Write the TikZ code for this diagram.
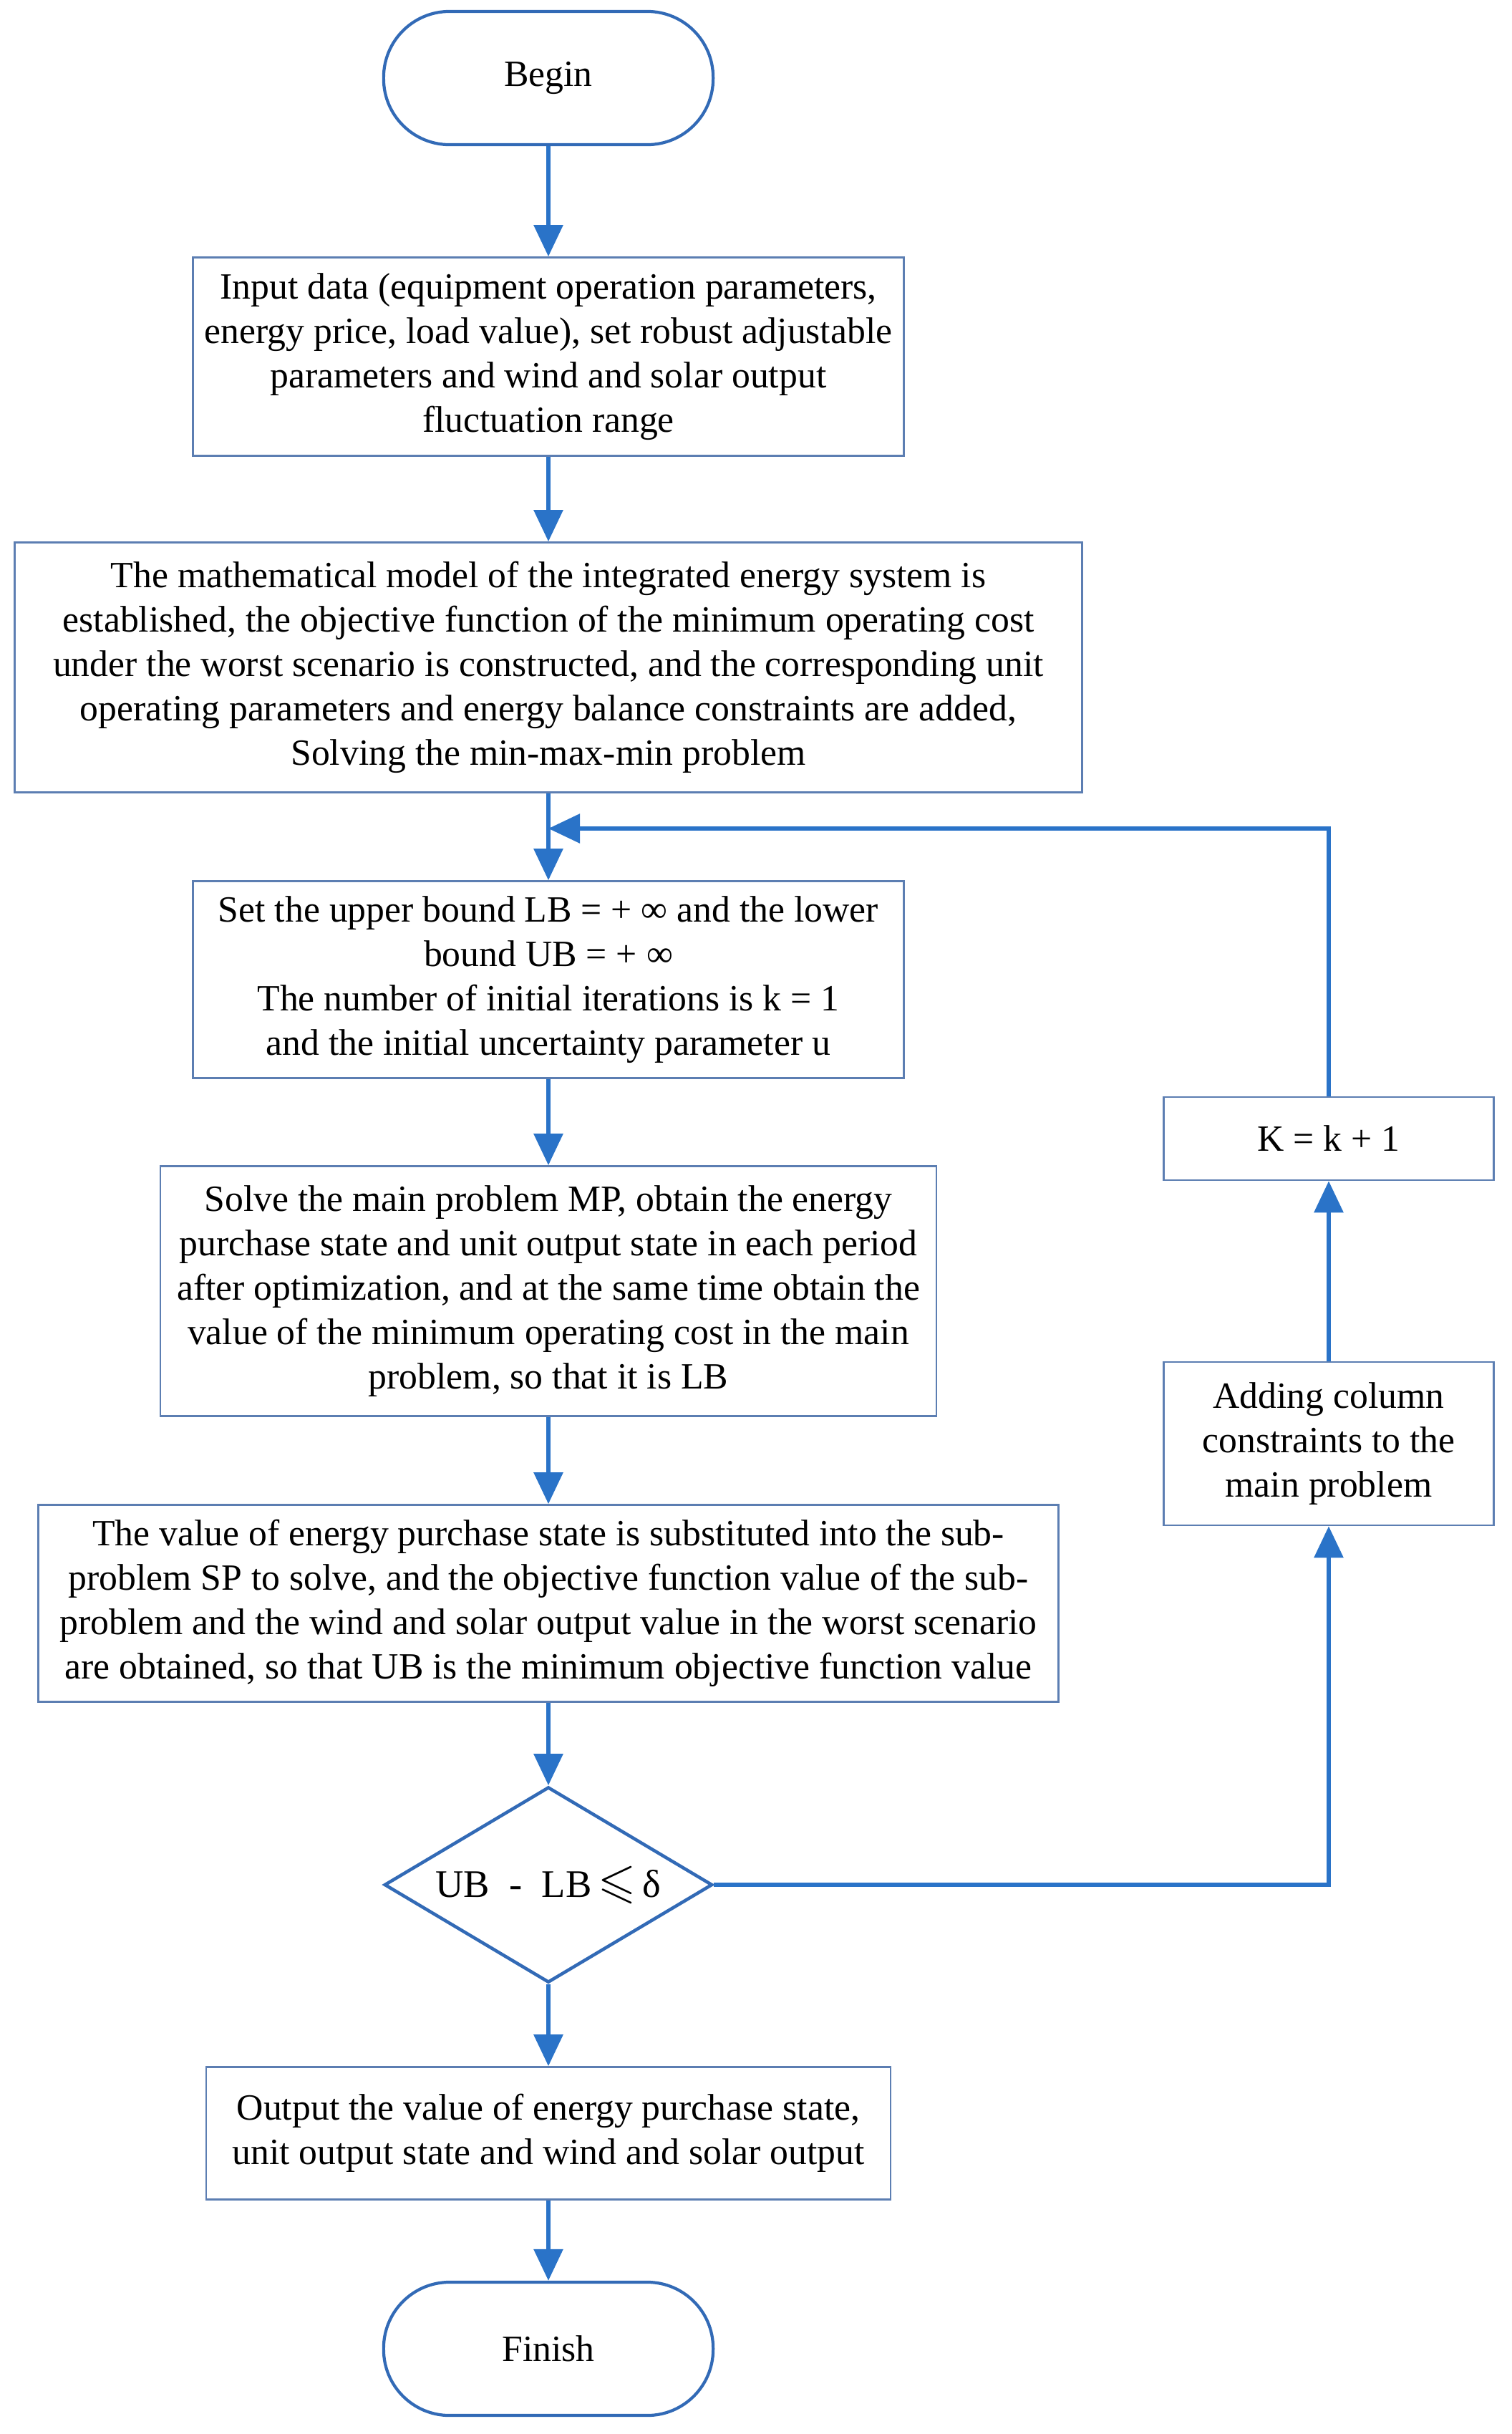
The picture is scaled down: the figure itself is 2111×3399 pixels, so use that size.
\documentclass[tikz,border=0pt]{standalone}
\usepackage{amssymb}
\usepackage{fontspec}
\setmainfont{Liberation Serif}
\usetikzlibrary{shapes.geometric,arrows.meta}
\definecolor{arrblue}{RGB}{42,115,200}
\definecolor{boxblue}{RGB}{92,126,178}
\definecolor{darkblue}{RGB}{50,106,182}
\begin{document}
\begin{tikzpicture}[x=0.01cm,y=-0.01cm,
  txt/.style={font=\fontsize{14.7}{17.6}\selectfont, align=center, text=black},
  procbox/.style={txt, draw=boxblue, line width=0.7pt, rectangle, inner sep=0pt},
  terminal/.style={txt, draw=darkblue, line width=1.2pt, rectangle, rounded corners=0.92cm,
    minimum width=4.6cm, minimum height=1.86cm, inner sep=0pt},
  decision/.style={txt, draw=darkblue, line width=1.3pt, diamond, aspect=1.68,
    minimum width=4.58cm, minimum height=2.73cm, inner sep=0pt},
  arr/.style={draw=arrblue, line width=1.7pt, -{Triangle[length=0.44cm,width=0.4cm]}}
]
\useasboundingbox (0,0) rectangle (2111,3399);

\node[terminal] (begin) at (766,109) {Begin};
\node[procbox, minimum width=9.92cm, minimum height=2.77cm] (input) at (766,498) {Input data (equipment operation parameters,\\ energy price, load value), set robust adjustable\\ parameters and wind and solar output\\ fluctuation range};
\node[procbox, minimum width=14.9cm, minimum height=3.49cm] (model) at (766,932) {The mathematical model of the integrated energy system is\\ established, the objective function of the minimum operating cost\\ under the worst scenario is constructed, and the corresponding unit\\ operating parameters and energy balance constraints are added,\\ Solving the min-max-min problem};
\node[procbox, minimum width=9.92cm, minimum height=2.75cm] (set) at (766,1368) {Set the upper bound LB = + ∞ and the lower\\ bound UB = + ∞\\ The number of initial iterations is k = 1\\ and the initial uncertainty parameter u};
\node[procbox, minimum width=10.83cm, minimum height=3.49cm] (solve) at (766,1803) {Solve the main problem MP, obtain the energy\\ purchase state and unit output state in each period\\ after optimization, and at the same time obtain the\\ value of the minimum operating cost in the main\\ problem, so that it is LB};
\node[procbox, minimum width=14.24cm, minimum height=2.75cm] (value) at (766,2239) {The value of energy purchase state is substituted into the sub-\\ problem SP to solve, and the objective function value of the sub-\\ problem and the wind and solar output value in the worst scenario\\ are obtained, so that UB is the minimum objective function value};
\node[decision] (dec) at (766,2632) {\fontsize{15.5}{18}\selectfont UB\ \ -\ \ LB\,\scalebox{1.25}{$\leqslant$}\,δ};
\node[procbox, minimum width=9.55cm, minimum height=1.85cm] (output) at (766,2979) {Output the value of energy purchase state,\\ unit output state and wind and solar output};
\node[terminal] (finish) at (766,3280) {Finish};
\node[procbox, minimum width=4.61cm, minimum height=1.16cm] (kbox) at (1856,1590) {K = k + 1};
\node[procbox, minimum width=4.61cm, minimum height=2.28cm] (adding) at (1856,2016) {Adding column\\ constraints to the\\ main problem};

\coordinate (join) at (766,1157);

\draw[arr] (begin.south) -- (input.north);
\draw[arr] (input.south) -- (model.north);
\draw[arr] (model.south) -- (set.north);
\draw[arr] (set.south) -- (solve.north);
\draw[arr] (solve.south) -- (value.north);
\draw[arr] (value.south) -- (dec.north);
\draw[arr] (dec.south) -- (output.north);
\draw[arr] (output.south) -- (finish.north);
\draw[arr] (dec.east) -| (adding.south);
\draw[arr] (adding.north) -- (kbox.south);
\draw[arr] (kbox.north) |- (join);
\end{tikzpicture}
\end{document}
